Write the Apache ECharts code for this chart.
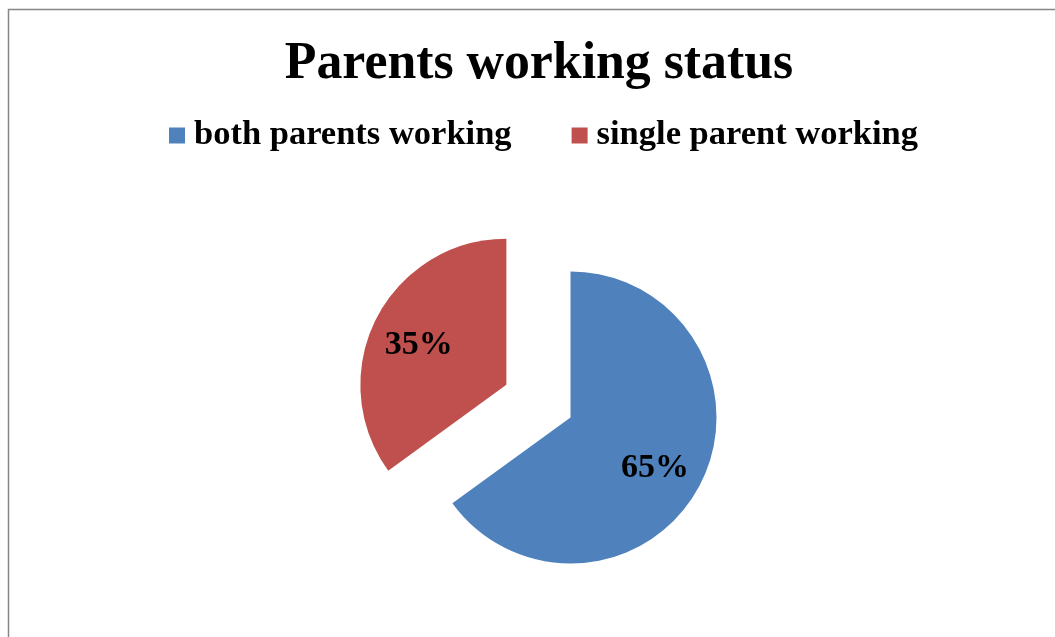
<!DOCTYPE html>
<html>
<head>
<meta charset="utf-8">
<script src="https://cdn.jsdelivr.net/npm/echarts@6/dist/echarts.min.js"></script>
<style>html,body{margin:0;padding:0;background:#fff;}#chart{width:1055px;height:637px;}</style>
</head>
<body>
<div id="chart"></div>
<script>
const titleText = 'Parents working status';
const categories = ['both parents working', 'single parent working'];
const values = [65, 35];
const colors = ['#4F81BD', '#C0504D'];

const chart = echarts.init(document.getElementById('chart'));
const R = 146;
const total = values.reduce((a, b) => a + b, 0);
const midAngles = [];
let acc = 0;
values.forEach(v => { midAngles.push((acc + v / 2) / total * 2 * Math.PI); acc += v; });
const extra = 0.16 * R;
const labelNudgeX = [-4, 1];

chart.setOption({
  animation: false,
  backgroundColor: '#fff',
  title: {
    text: titleText,
    left: 534, top: 34, textAlign: 'center',
    textStyle: { fontFamily: 'Liberation Serif', fontWeight: 'bold', fontSize: 51.8, color: '#000' }
  },
  legend: {
    left: 169, top: 118, padding: 0, itemGap: 60,
    itemWidth: 16, itemHeight: 16, icon: 'rect',
    data: categories,
    textStyle: { fontFamily: 'Liberation Serif', fontWeight: 'bold', fontSize: 34.5, color: '#000', padding: [0, 0, 0, 4] }
  },
  graphic: [{
    type: 'rect', silent: true, z: -1,
    shape: { x: 8.5, y: 9.5, width: 1200, height: 800 },
    style: { fill: 'none', stroke: '#868686', lineWidth: 1.5 }
  }],
  series: [{
    type: 'pie',
    center: [570.5, 417.5],
    radius: R,
    startAngle: 90,
    clockwise: true,
    selectedMode: 'single',
    selectedOffset: 72,
    emphasis: { disabled: true },
    label: {
      show: true, position: 'inside',
      formatter: p => p.value + '%',
      fontFamily: 'Liberation Serif', fontWeight: 'bold', fontSize: 34, color: '#000'
    },
    labelLine: { show: false },
    labelLayout: p => ({
      dx: extra * Math.sin(midAngles[p.dataIndex]) + labelNudgeX[p.dataIndex],
      dy: -extra * Math.cos(midAngles[p.dataIndex]) + 6
    }),
    data: categories.map((c, i) => ({
      name: c, value: values[i], selected: i === 1,
      itemStyle: { color: colors[i] }
    }))
  }]
});
</script>
</body>
</html>
